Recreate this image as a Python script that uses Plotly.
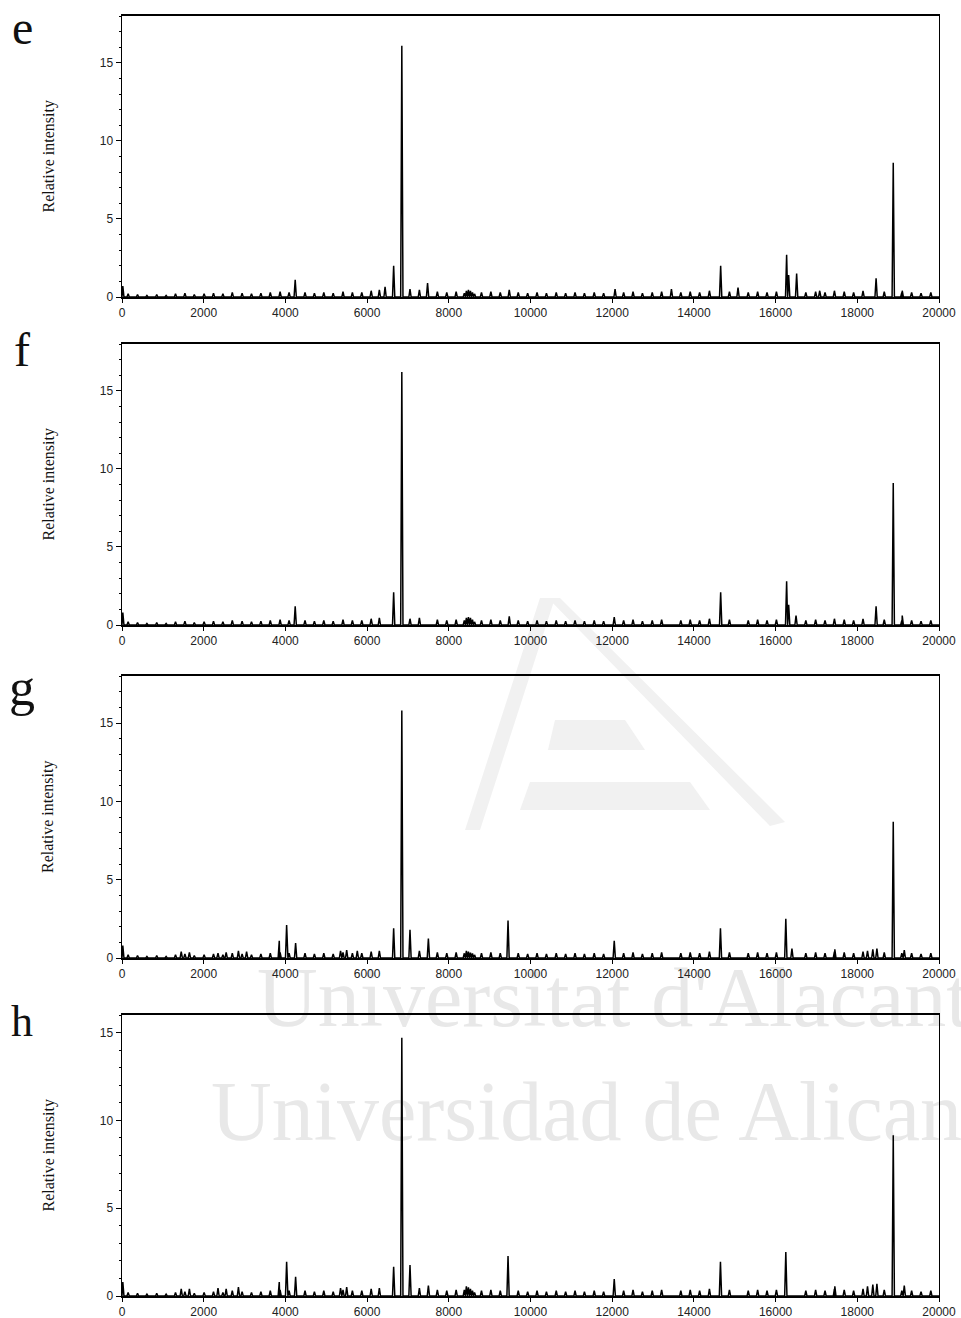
import plotly.graph_objects as go

# ---------------- data ----------------
x_ticks = [0, 2000, 4000, 6000, 8000, 10000, 12000, 14000, 16000, 18000, 20000]
y_ticks = [0, 5, 10, 15]
panel_labels = ["e", "f", "g", "h"]
y_title = "Relative intensity"
y_max = [18, 18, 18, 16]

# small background peaks common to all spectra
bg_mass = [150, 380, 610, 850, 1080, 1310, 1540, 1770, 2010, 2240,
           2470, 2700, 2940, 3170, 3400, 3630, 3870, 4090, 4480, 4710,
           4940, 5170, 5410, 5640, 5870, 6100, 6300, 7280, 7720, 7950,
           8180, 8800, 9030, 9260, 9700, 9930, 10160, 10390, 10630, 10860,
           11090, 11320, 11560, 11790, 12280, 12510, 12740, 12980, 13210, 13680,
           13910, 14140, 14380, 14870, 15330, 15560, 15790, 16020, 16740, 16980,
           17210, 17440, 17680, 17910, 18140, 18660, 19090, 19330, 19560, 19800]
bg_int = [0.2, 0.15, 0.1, 0.15, 0.1, 0.2, 0.25, 0.15, 0.2, 0.25,
          0.2, 0.3, 0.25, 0.2, 0.25, 0.3, 0.35, 0.3, 0.3, 0.25,
          0.3, 0.25, 0.35, 0.3, 0.3, 0.4, 0.45, 0.45, 0.35, 0.3,
          0.35, 0.3, 0.35, 0.3, 0.3, 0.25, 0.3, 0.25, 0.3, 0.25,
          0.3, 0.25, 0.3, 0.25, 0.3, 0.35, 0.25, 0.3, 0.35, 0.3,
          0.35, 0.3, 0.4, 0.35, 0.3, 0.35, 0.3, 0.35, 0.3, 0.35,
          0.3, 0.4, 0.35, 0.3, 0.4, 0.35, 0.3, 0.3, 0.25, 0.3]

# panel-specific peaks (m/z, relative intensity)
e_mass = [20, 4240, 6440, 6650, 6850, 7050, 7480, 8380, 8430, 8480, 8530, 8580, 8630,
          9480, 12070, 13450, 14655, 15080, 16270, 16320, 16515, 17080, 18460, 18880, 19100]
e_int = [0.7, 1.1, 0.65, 2.0, 16.1, 0.5, 0.9, 0.25, 0.4, 0.45, 0.4, 0.3, 0.2,
         0.45, 0.5, 0.5, 2.0, 0.6, 2.7, 1.4, 1.5, 0.4, 1.2, 8.6, 0.4]

f_mass = [20, 4240, 6650, 6850, 7050, 8380, 8430, 8480, 8530, 8580, 8630,
          9480, 12050, 14655, 16270, 16320, 16500, 18460, 18880, 19100]
f_int = [0.8, 1.2, 2.1, 16.2, 0.4, 0.3, 0.45, 0.5, 0.45, 0.35, 0.2,
         0.55, 0.5, 2.1, 2.8, 1.3, 0.6, 1.2, 9.1, 0.6]

g_mass = [20, 1450, 1650, 2350, 2550, 2850, 3050, 3850, 4030, 4250, 5350, 5500, 5760,
          6650, 6850, 7050, 7500, 8380, 8430, 8480, 8530, 8580, 8630, 9450, 12050,
          14650, 16250, 16400, 17450, 18250, 18380, 18480, 18880, 19150]
g_int = [0.8, 0.4, 0.35, 0.3, 0.35, 0.45, 0.4, 1.1, 2.1, 0.95, 0.45, 0.5, 0.45,
         1.9, 15.8, 1.8, 1.25, 0.3, 0.45, 0.4, 0.35, 0.3, 0.2, 2.4, 1.1,
         1.9, 2.5, 0.6, 0.55, 0.45, 0.55, 0.6, 8.7, 0.5]

h_mass = [20, 1450, 1650, 2350, 2550, 2850, 3850, 4030, 4250, 5350, 5500,
          6650, 6850, 7050, 7500, 8380, 8430, 8480, 8530, 8580, 8630, 9450, 12050,
          14650, 16250, 17450, 18250, 18380, 18480, 18880, 19150]
h_int = [0.8, 0.4, 0.4, 0.45, 0.4, 0.5, 0.8, 1.95, 1.1, 0.45, 0.5,
         1.67, 14.7, 1.76, 0.6, 0.35, 0.55, 0.5, 0.4, 0.3, 0.2, 2.27, 0.97,
         1.95, 2.5, 0.55, 0.55, 0.65, 0.7, 9.15, 0.6]

panel_mass = [e_mass, f_mass, g_mass, h_mass]
panel_int = [e_int, f_int, g_int, h_int]

# ---------------- layout geometry (pixels of the 961x1318 page) ----------------
W, H = 961, 1318
X_LEFT, X_RIGHT = 122, 939
PANEL_PX = [(16, 297), (344, 625), (676, 958), (1015, 1296)]
LETTER_SIZE = [48, 48, 52, 44]
LETTER_Y = [0, 322, 658, 996]   # top of the letter text box


def stick_spectrum(masses, ints, hw=28.0):
    """Turn a peak list into a stick/triangle spectrum line."""
    pk = {}
    for m, v in zip(masses, ints):
        pk[m] = max(pk.get(m, 0.0), v)
    ms = sorted(pk)
    xs, ys = [0.0], [0.0]
    for i, m in enumerate(ms):
        left_gap = (m - ms[i - 1]) / 2 if i > 0 else hw
        right_gap = (ms[i + 1] - m) / 2 if i < len(ms) - 1 else hw
        xs += [m - min(hw, left_gap), m, m + min(hw, right_gap)]
        ys += [0.0, pk[m], 0.0]
    xs.append(20000.0)
    ys.append(0.0)
    return [max(0.0, x) for x in xs], ys


fig = go.Figure()
layout = dict(
    width=W, height=H, autosize=False,
    margin=dict(l=0, r=0, t=0, b=0, pad=0),
    paper_bgcolor="white", plot_bgcolor="rgba(0,0,0,0)",
    showlegend=False,
    annotations=[], shapes=[],
)

tick_font = dict(family="Liberation Sans, Arial, sans-serif", size=12, color="#222")
serif = "Liberation Serif, Times New Roman, serif"

for i in range(4):
    k = "" if i == 0 else str(i + 1)
    top, bot = PANEL_PX[i]
    masses = list(bg_mass) + list(panel_mass[i])
    ints = list(bg_int) + list(panel_int[i])
    xs, ys = stick_spectrum(masses, ints)
    fig.add_trace(go.Scatter(x=xs, y=ys, mode="lines",
                             line=dict(color="black", width=1.5),
                             xaxis="x" + k, yaxis="y" + k, hoverinfo="skip"))
    layout["xaxis" + k] = dict(
        domain=[X_LEFT / W, X_RIGHT / W], anchor="y" + k, automargin=False,
        range=[0, 20000], tickvals=x_ticks, ticktext=[str(t) for t in x_ticks],
        ticks="outside", ticklen=4, tickcolor="black", tickwidth=1,
        showline=True, linecolor="black", linewidth=1.6, mirror=True,
        showgrid=False, zeroline=False, tickfont=tick_font,
    )
    layout["yaxis" + k] = dict(
        domain=[1 - bot / H, 1 - top / H], anchor="x" + k, automargin=False,
        range=[0, y_max[i]], tickvals=y_ticks, ticktext=[str(t) for t in y_ticks],
        ticks="outside", ticklen=5, tickcolor="black", tickwidth=1,
        minor=dict(dtick=1, ticks="outside", ticklen=2, tickcolor="black"),
        showline=True, linecolor="black", linewidth=1.4, mirror=True,
        showgrid=False, zeroline=False, tickfont=tick_font,
    )
    yc = 1 - (top + bot) / 2 / H
    layout["annotations"].append(dict(
        text=y_title, x=48 / W, y=yc, xref="paper", yref="paper",
        textangle=-90, showarrow=False, xanchor="center", yanchor="middle",
        font=dict(family=serif, size=16, color="#111"),
    ))
    layout["annotations"].append(dict(
        text=panel_labels[i], x=22 / W, y=1 - LETTER_Y[i] / H, xref="paper", yref="paper",
        showarrow=False, xanchor="center", yanchor="top", borderpad=0,
        font=dict(family=serif, size=LETTER_SIZE[i], color="#111"),
    ))

# faint watermark (drawn below the data)
wm = "#e8e8e8"
for txt, x0, yc in [("Universitat d'Alacant", 254, 988), ("Universidad de Alicante", 208, 1102)]:
    layout["shapes"].append(dict(
        type="rect", xref="paper", yref="paper", layer="below",
        x0=x0 / W, x1=1.0, y0=1 - (yc + 40) / H, y1=1 - (yc - 40) / H,
        line=dict(width=0), fillcolor="rgba(0,0,0,0)",
        label=dict(text=txt, textposition="middle left", padding=0,
                   font=dict(family=serif, size=84, color=wm)),
    ))


def P(xp, yp):
    return f"{xp / W:.4f},{1 - yp / H:.4f}"


logo_paths = [
    "M " + P(540, 598) + " L " + P(555, 598) + " L " + P(480, 830) + " L " + P(465, 830) + " Z",
    "M " + P(548, 598) + " L " + P(560, 598) + " L " + P(785, 822) + " L " + P(770, 826) + " Z",
    "M " + P(555, 720) + " L " + P(625, 720) + " L " + P(645, 750) + " L " + P(548, 750) + " Z",
    "M " + P(530, 782) + " L " + P(690, 782) + " L " + P(710, 810) + " L " + P(520, 810) + " Z",
]
for pth in logo_paths:
    layout["shapes"].append(dict(type="path", path=pth, xref="paper", yref="paper",
                                 layer="below", line=dict(width=0), fillcolor="#f1f1f1"))

fig.update_layout(**layout)
fig.write_html(
    "out.html",
    config={"responsive": False, "displayModeBar": False, "staticPlot": True},
    post_script="document.body.style.margin='0px';document.body.style.overflow='hidden';",
)
